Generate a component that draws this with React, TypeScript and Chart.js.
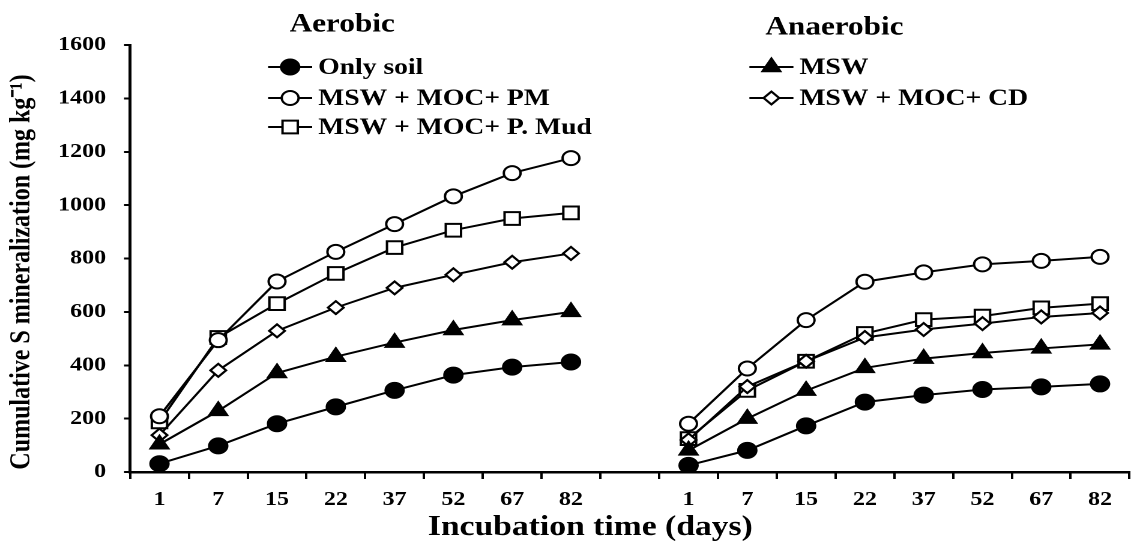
import React, { useEffect, useRef } from 'react';
import { Chart, registerables } from 'chart.js';
import { drawPoint } from 'chart.js/helpers';

Chart.register(...registerables);

const days = ['1', '7', '15', '22', '37', '52', '67', '82'];
const categories = [...days, '', ...days];

const onlySoilAerobic = [31, 98, 181, 244, 306, 363, 393, 412];
const onlySoilAnaerobic = [25, 81, 173, 262, 288, 309, 319, 330];
const mswAerobic = [104, 229, 371, 432, 485, 532, 569, 600];
const mswAnaerobic = [81, 200, 305, 390, 425, 446, 463, 478];
const pmAerobic = [209, 494, 714, 825, 929, 1033, 1120, 1176];
const pmAnaerobic = [181, 388, 569, 713, 748, 778, 791, 806];
const cdAerobic = [138, 381, 529, 616, 690, 739, 786, 819];
const cdAnaerobic = [120, 320, 415, 504, 534, 556, 581, 596];
const mudAerobic = [188, 504, 631, 744, 841, 906, 950, 971];
const mudAnaerobic = [125, 306, 415, 519, 571, 584, 615, 631];

const yTicks = [0, 200, 400, 600, 800, 1000, 1200, 1400, 1600];

const FONT = '"Liberation Serif", "Times New Roman", serif';
// the reference figure is stretched horizontally
const S = 1.2;
const X = (px: number) => px / S;

const join = (a: number[], b: number[]) => [...a, null, ...b];

const seriesDefs = [
  { label: 'Only soil', data: join(onlySoilAerobic, onlySoilAnaerobic), style: 'circle', radius: 7.5, fill: '#000' },
  { label: 'MSW', data: join(mswAerobic, mswAnaerobic), style: 'triangle', radius: 8.5, fill: '#000' },
  { label: 'MSW + MOC+ PM', data: join(pmAerobic, pmAnaerobic), style: 'circle', radius: 7, fill: '#fff' },
  { label: 'MSW + MOC+ CD', data: join(cdAerobic, cdAnaerobic), style: 'rectRot', radius: 6.5, fill: '#fff' },
  { label: 'MSW + MOC+ P. Mud', data: join(mudAerobic, mudAnaerobic), style: 'rect', radius: 9, fill: '#fff' },
];

// legend slots: [datasetIndex, x of line start (page px), y]
const legendSlots: [number, number, number][] = [
  [0, 268, 67],
  [2, 268, 98],
  [4, 268, 127],
  [1, 749, 67],
  [3, 749, 98],
];

const overlayPlugin = {
  id: 'overlay',
  afterDraw(chart: any) {
    const ctx = chart.ctx as CanvasRenderingContext2D;
    ctx.save();
    ctx.fillStyle = '#000';
    ctx.textBaseline = 'middle';
    ctx.textAlign = 'center';
    ctx.font = `bold 26px ${FONT}`;
    ctx.fillText('Aerobic', X(342), 25);
    ctx.fillText('Anaerobic', X(834), 28);

    ctx.font = `bold 28px ${FONT}`;
    ctx.fillText('Incubation time (days)', X(590), 528);

    // y axis title
    ctx.save();
    ctx.translate(X(22), 272);
    ctx.rotate(-Math.PI / 2);
    ctx.font = `bold 24px ${FONT}`;
    ctx.fillText('Cumulative S mineralization (mg kg\u207B\u00B9)', 0, 0);
    ctx.restore();

    ctx.textAlign = 'left';
    ctx.font = `bold 23px ${FONT}`;
    legendSlots.forEach(([di, x, y]) => {
      const def = seriesDefs[di];
      ctx.strokeStyle = '#000';
      ctx.lineWidth = 2;
      ctx.beginPath();
      ctx.moveTo(X(x), y);
      ctx.lineTo(X(x + 44), y);
      ctx.stroke();
      ctx.fillStyle = def.fill;
      ctx.strokeStyle = '#000';
      drawPoint(ctx, { pointStyle: def.style, radius: def.radius, borderWidth: 2, rotation: 0 } as any, X(x + 22), y);
      ctx.fillStyle = '#000';
      ctx.fillText(def.label, X(x + 50), y + 1);
    });
    ctx.restore();
  },
};

export default function App() {
  const ref = useRef<HTMLCanvasElement | null>(null);
  useEffect(() => {
    if (!ref.current) return;
    const chart = new Chart(ref.current, {
      type: 'line',
      data: {
        labels: categories,
        datasets: seriesDefs.map((d) => ({
          label: d.label,
          data: d.data,
          borderColor: '#000',
          borderWidth: 2,
          pointStyle: d.style as any,
          pointRadius: d.radius,
          pointBackgroundColor: d.fill,
          pointBorderColor: '#000',
          pointBorderWidth: 2,
          spanGaps: false,
          tension: 0,
        })),
      },
      options: {
        animation: false,
        responsive: true,
        maintainAspectRatio: false,
        devicePixelRatio: 2,
        layout: { padding: { top: 45, left: 0, right: 0, bottom: 0 } },
        plugins: { legend: { display: false }, tooltip: { enabled: false } },
        scales: {
          x: {
            type: 'category',
            offset: true,
            grid: { display: true, drawOnChartArea: false, offset: true, tickLength: 7, color: '#000', lineWidth: 2 },
            border: { color: '#000', width: 2.5 },
            ticks: { color: '#000', font: { family: FONT, weight: 'bold', size: 20 }, padding: 9, maxRotation: 0, autoSkip: false },
            afterFit: (s: any) => { s.height = 77; },
          },
          y: {
            min: 0,
            max: 1600,
            afterBuildTicks: (s: any) => { s.ticks = yTicks.map((v) => ({ value: v })); },
            grid: { display: true, drawOnChartArea: false, tickLength: 5, color: '#000', lineWidth: 2 },
            border: { color: '#000', width: 2.5 },
            ticks: { color: '#000', font: { family: FONT, weight: 'bold', size: 20 }, padding: 15, callback: (v: any) => `${v}` },
            afterFit: (s: any) => { s.width = X(130); },
          },
        },
      },
      plugins: [overlayPlugin],
    });
    return () => chart.destroy();
  }, []);
  return (
    <div style={{ position: 'fixed', left: 0, top: 0, width: 1134, height: 549, overflow: 'hidden', background: '#fff' }}>
      <div style={{ position: 'absolute', left: 0, top: 0, width: X(1142), height: 549, transform: `scaleX(${S})`, transformOrigin: '0 0' }}>
        <canvas ref={ref} />
      </div>
    </div>
  );
}
